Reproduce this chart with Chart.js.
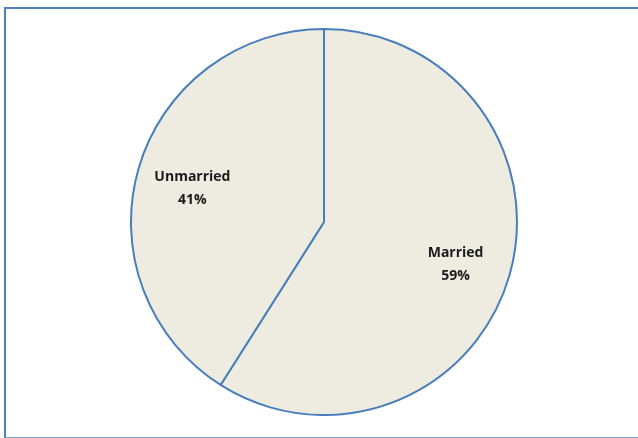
<!DOCTYPE html>
<html>
<head>
<meta charset="utf-8">
<script src="https://cdn.jsdelivr.net/npm/chart.js@4/dist/chart.umd.min.js"></script>
<style>
    html, body { margin: 0; padding: 0; background: #fff; }
    body { width: 638px; height: 438px; position: relative; overflow: hidden; }
    #frame {
        position: absolute; left: 4px; top: 7px; width: 700px; height: 428px;
        border-left: 2px solid #4F81BD; border-top: 2px solid #4F81BD; border-bottom: 2px solid #7FA0CF;
    }
    #wrap { position: absolute; left: 130px; top: 28px; width: 388px; height: 388px; }
</style>
</head>
<body>
<div id="frame"></div>
<div id="wrap"><canvas id="pie"></canvas></div>
<script>
const categories = ['Married', 'Unmarried'];
const shares = [59, 41];
const percentLabels = ['59%', '41%'];

// writes category name and percent inside each slice
const sliceLabels = {
    id: 'sliceLabels',
    afterDatasetsDraw(chart) {
        const ctx = chart.ctx;
        const arcs = chart.getDatasetMeta(0).data;
        ctx.save();
        ctx.fillStyle = '#1a1a1a';
        ctx.textAlign = 'center';
        ctx.textBaseline = 'middle';
        ctx.font = 'bold 14px "Open Sans", "Liberation Sans", sans-serif';
        arcs.forEach((arc, i) => {
            const p = arc.getProps(['x', 'y', 'startAngle', 'endAngle', 'outerRadius'], true);
            const mid = (p.startAngle + p.endAngle) / 2;
            const r = p.outerRadius * 0.71;
            const cx = p.x + Math.cos(mid) * r;
            const cy = p.y + Math.sin(mid) * r + 4;
            ctx.fillText(categories[i], cx, cy - 11);
            ctx.fillText(percentLabels[i], cx, cy + 12);
        });
        ctx.restore();
    }
};

new Chart(document.getElementById('pie').getContext('2d'), {
    type: 'pie',
    data: {
        labels: categories,
        datasets: [{
            data: shares,
            backgroundColor: '#EEECE1',
            borderColor: '#4A7EBB',
            borderWidth: 2
        }]
    },
    options: {
        responsive: true,
        maintainAspectRatio: false,
        animation: false,
        layout: { padding: 0 },
        plugins: {
            legend: { display: false },
            tooltip: { enabled: false }
        }
    },
    plugins: [sliceLabels]
});
</script>
</body>
</html>
